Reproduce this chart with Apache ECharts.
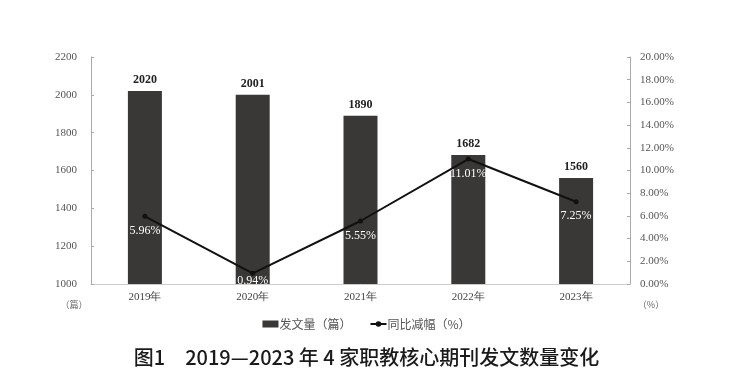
<!DOCTYPE html>
<html><head><meta charset="utf-8">
<script src="https://cdn.jsdelivr.net/npm/echarts@6/dist/echarts.min.js"></script>
<style>html,body{margin:0;padding:0;background:#fff}#c{width:733px;height:390px}</style>
</head><body><div id="c"></div>
<script>
const categories = ['2019年','2020年','2021年','2022年','2023年'];
const articleCounts = [2020, 2001, 1890, 1682, 1560];
const declineRates = [5.96, 0.94, 5.55, 11.01, 7.25];
const leftTicks = {min:1000, max:2200, interval:200};
const rightTicks = {min:0, max:20, interval:2};

const chart = echarts.init(document.getElementById('c'));
const serif = 'Liberation Serif';
const lineData = declineRates.map((v,i)=> i===1 ? {value:v, label:{offset:[0,-7]}} : v);
chart.setOption({
  animation:false,
  backgroundColor:'#fff',
  title:{text:'图1　2019—2023 年 4 家职教核心期刊发文数量变化', left:'center', top:342,
    textStyle:{fontFamily:'Noto Sans CJK SC', fontSize:20, fontWeight:500, color:'#1a1a1a'}},
  grid:{left:91, right:103, top:57, bottom:106},
  legend:{top:313, left:'center', itemGap:18, itemWidth:16, itemHeight:7,
    textStyle:{fontFamily:'Noto Sans CJK SC', fontSize:12, color:'#555', padding:[0,0,0,-4]},
    data:[{name:'发文量（篇）', icon:'rect'},{name:'同比减幅（%）'}]},
  xAxis:{type:'category', data:categories,
    axisLine:{lineStyle:{color:'#ccc'}}, axisTick:{show:false},
    axisLabel:{fontFamily:serif, fontSize:11, color:'#444', margin:8}},
  yAxis:[
    {type:'value', min:leftTicks.min, max:leftTicks.max, interval:leftTicks.interval,
     name:'（篇）', nameLocation:'start', nameGap:16, nameTextStyle:{fontFamily:'Noto Sans CJK SC', fontSize:9, color:'#666', padding:[0,34,0,0]},
     splitLine:{show:false}, axisLine:{show:true, lineStyle:{color:'#aaa'}},
     axisTick:{show:true, inside:true, length:3, lineStyle:{color:'#aaa'}},
     axisLabel:{fontFamily:serif, fontSize:11, color:'#555', margin:14, formatter:v=>String(v)}},
    {type:'value', min:rightTicks.min, max:rightTicks.max, interval:rightTicks.interval,
     name:'（%）', nameLocation:'start', nameGap:16, nameTextStyle:{fontFamily:'Noto Sans CJK SC', fontSize:9, color:'#666', padding:[0,0,0,42]},
     splitLine:{show:false}, axisLine:{show:true, lineStyle:{color:'#aaa'}},
     axisTick:{show:true, inside:true, length:3, lineStyle:{color:'#aaa'}},
     axisLabel:{fontFamily:serif, fontSize:11, color:'#555', margin:10, formatter:v=>v.toFixed(2)+'%'}}
  ],
  series:[
    {name:'发文量（篇）', type:'bar', data:articleCounts, barWidth:34,
     itemStyle:{color:'#3a3836'},
     label:{show:true, position:'top', distance:5, fontFamily:serif, fontWeight:'bold', fontSize:12, color:'#222'}},
    {name:'同比减幅（%）', type:'line', yAxisIndex:1, data:lineData,
     symbol:'circle', symbolSize:5, itemStyle:{color:'#111'}, lineStyle:{color:'#111', width:2},
     label:{show:true, position:'bottom', distance:6, fontFamily:serif, fontSize:12, color:'#fff', formatter:p=>p.value.toFixed(2)+'%'}}
  ]
});
</script></body></html>
